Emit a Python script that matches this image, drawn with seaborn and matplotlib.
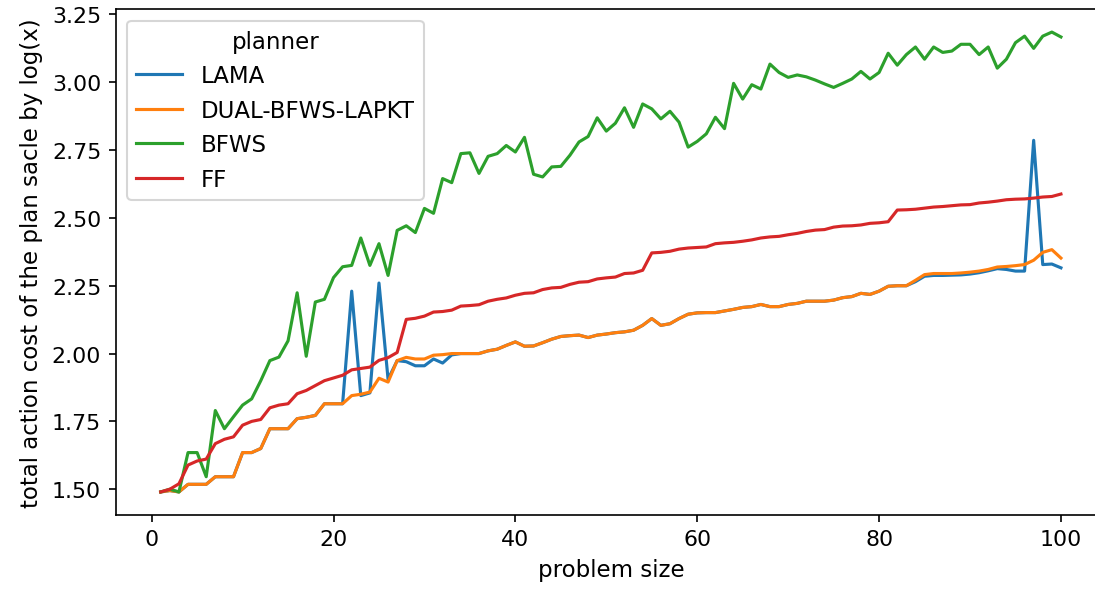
import pandas as pd
import matplotlib
matplotlib.use('Agg')
import matplotlib.pyplot as plt
import seaborn as sns

problem_size = list(range(1, 101))

lama = [1.49, 1.495, 1.49, 1.518, 1.518, 1.518, 1.546, 1.546, 1.546, 1.635,
        1.635, 1.65, 1.723, 1.723, 1.723, 1.76, 1.765, 1.772, 1.815, 1.815,
        1.815, 2.23, 1.845, 1.855, 2.26, 1.905, 1.974, 1.97, 1.955, 1.955,
        1.98, 1.965, 1.995, 2.0, 2.0, 2.0, 2.01, 2.016, 2.03, 2.043,
        2.027, 2.028, 2.04, 2.053, 2.063, 2.066, 2.068, 2.059, 2.068, 2.072,
        2.077, 2.08, 2.086, 2.104, 2.129, 2.104, 2.11, 2.129, 2.145, 2.15,
        2.151, 2.151, 2.157, 2.163, 2.17, 2.173, 2.181, 2.173, 2.173, 2.181,
        2.185, 2.193, 2.193, 2.193, 2.197, 2.206, 2.21, 2.222, 2.218, 2.23,
        2.248, 2.25, 2.25, 2.265, 2.285, 2.288, 2.288, 2.289, 2.29, 2.293,
        2.298, 2.305, 2.313, 2.31, 2.304, 2.304, 2.786, 2.328, 2.33, 2.316]

dual_bfws = [1.49, 1.495, 1.49, 1.518, 1.518, 1.518, 1.546, 1.546, 1.546, 1.635,
             1.635, 1.65, 1.723, 1.723, 1.723, 1.76, 1.765, 1.772, 1.815, 1.815,
             1.815, 1.845, 1.85, 1.858, 1.909, 1.895, 1.974, 1.986, 1.98, 1.98,
             1.994, 1.996, 2.0, 2.0, 2.0, 2.0, 2.01, 2.016, 2.03, 2.043,
             2.027, 2.028, 2.04, 2.053, 2.063, 2.066, 2.068, 2.059, 2.068, 2.072,
             2.077, 2.08, 2.086, 2.104, 2.129, 2.104, 2.11, 2.129, 2.145, 2.15,
             2.151, 2.151, 2.157, 2.163, 2.17, 2.173, 2.181, 2.173, 2.173, 2.181,
             2.185, 2.193, 2.193, 2.193, 2.197, 2.206, 2.21, 2.222, 2.218, 2.23,
             2.248, 2.25, 2.25, 2.27, 2.291, 2.295, 2.295, 2.295, 2.297, 2.3,
             2.304, 2.31, 2.319, 2.321, 2.324, 2.328, 2.344, 2.373, 2.383, 2.352]

bfws = [1.49, 1.50, 1.49, 1.635, 1.635, 1.546, 1.79, 1.723, 1.767, 1.81,
        1.833, 1.90, 1.974, 1.987, 2.047, 2.224, 1.99, 2.19, 2.20, 2.28,
        2.32, 2.325, 2.426, 2.325, 2.405, 2.288, 2.454, 2.471, 2.446, 2.535,
        2.517, 2.645, 2.63, 2.737, 2.74, 2.664, 2.727, 2.737, 2.767, 2.743,
        2.797, 2.661, 2.651, 2.688, 2.69, 2.731, 2.78, 2.80, 2.869, 2.82,
        2.849, 2.906, 2.834, 2.92, 2.902, 2.865, 2.893, 2.853, 2.761, 2.782,
        2.81, 2.871, 2.829, 2.996, 2.938, 2.991, 2.975, 3.067, 3.036, 3.018,
        3.027, 3.02, 3.008, 2.994, 2.981, 2.996, 3.012, 3.04, 3.012, 3.036,
        3.107, 3.063, 3.102, 3.13, 3.085, 3.13, 3.11, 3.115, 3.14, 3.14,
        3.102, 3.13, 3.052, 3.085, 3.146, 3.17, 3.125, 3.17, 3.185, 3.167]

ff = [1.49, 1.50, 1.52, 1.589, 1.604, 1.611, 1.668, 1.684, 1.693, 1.736,
      1.75, 1.757, 1.80, 1.81, 1.815, 1.852, 1.864, 1.882, 1.90, 1.91,
      1.92, 1.94, 1.945, 1.95, 1.975, 1.985, 2.004, 2.126, 2.13, 2.138,
      2.153, 2.155, 2.16, 2.175, 2.177, 2.18, 2.193, 2.20, 2.205, 2.215,
      2.222, 2.224, 2.236, 2.242, 2.244, 2.255, 2.263, 2.265, 2.275, 2.279,
      2.282, 2.295, 2.297, 2.307, 2.371, 2.373, 2.377, 2.385, 2.389, 2.391,
      2.393, 2.405, 2.408, 2.41, 2.414, 2.419, 2.426, 2.43, 2.432, 2.438,
      2.443, 2.45, 2.455, 2.457, 2.466, 2.47, 2.471, 2.474, 2.48, 2.482,
      2.486, 2.529, 2.53, 2.532, 2.536, 2.54, 2.542, 2.545, 2.548, 2.549,
      2.555, 2.558, 2.562, 2.567, 2.569, 2.57, 2.573, 2.577, 2.579, 2.588]

planners = ['LAMA', 'DUAL-BFWS-LAPKT', 'BFWS', 'FF']
series = [lama, dual_bfws, bfws, ff]

frames = []
for name, vals in zip(planners, series):
    frames.append(pd.DataFrame({'problem size': problem_size,
                                'cost': vals,
                                'planner': name}))
df = pd.concat(frames, ignore_index=True)

plt.rcParams['font.size'] = 11

fig = plt.figure(figsize=(7.3, 3.9533), dpi=150)
ax = sns.lineplot(data=df, x='problem size', y='cost', hue='planner')
ax.set(xlabel='problem size', ylabel='total action cost of the plan sacle by log(x)')
ax.tick_params(labelsize=10.6)
ax.legend(title='planner', loc='upper left')
# the original screenshot cuts off the right edge of the axes
fig.subplots_adjust(left=0.1057, right=1.01, top=0.983, bottom=0.130)

fig.savefig('out.png', dpi=150)
